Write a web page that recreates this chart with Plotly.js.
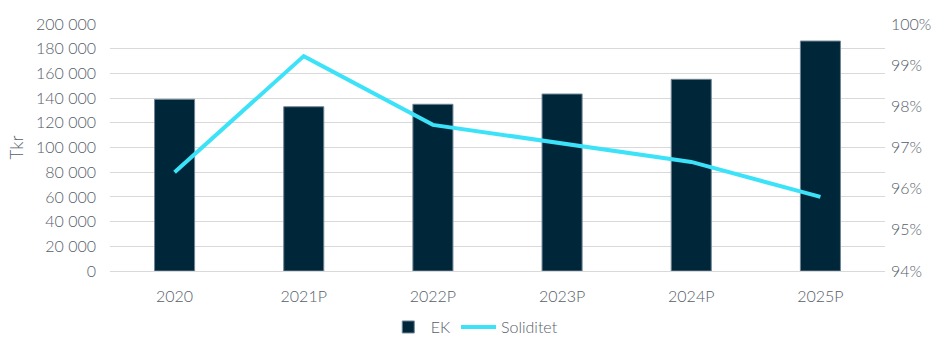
<!DOCTYPE html>
<html>
<head>
<meta charset="utf-8">
<script src="https://cdn.plot.ly/plotly-3.0.1.min.js"></script>
<style>html,body{margin:0;padding:0;background:#fff;}#chart{width:941px;height:338px;}</style>
</head>
<body>
<div id="chart"></div>
<script>
var categories = ["2020", "2021P", "2022P", "2023P", "2024P", "2025P"];
var ekValues = [139000, 133000, 135000, 143300, 155200, 186200];
var soliditetValues = [0.9640, 0.9922, 0.9755, 0.9710, 0.9665, 0.9580];

var textColor = "#55606a";
var fontFamily = "Lato, 'Open Sans', sans-serif";

var traces = [
  {
    type: "bar",
    name: "EK",
    x: categories,
    y: ekValues,
    marker: {color: "#00263a", line: {color: "#6e8595", width: 1}},
    width: 0.31,
    yaxis: "y"
  },
  {
    type: "scatter",
    mode: "lines",
    name: "Soliditet",
    x: categories,
    y: soliditetValues,
    line: {color: "#3ce2f8", width: 4},
    yaxis: "y2"
  }
];

var layout = {
  width: 941,
  height: 338,
  margin: {l: 110, r: 56, t: 24, b: 67, autoexpand: false},
  paper_bgcolor: "#ffffff",
  plot_bgcolor: "#ffffff",
  font: {family: fontFamily, size: 16, color: textColor, weight: 300},
  separators: ", ",
  showlegend: true,
  legend: {
    orientation: "h",
    x: 0.47, xanchor: "center",
    y: -0.227, yanchor: "middle",
    font: {size: 16, color: textColor, weight: 300},
    itemwidth: 35
  },
  xaxis: {
    type: "category",
    showgrid: false,
    zeroline: false,
    showline: false,
    ticks: "",
    ticklabelstandoff: 14,
    tickfont: {size: 16, color: textColor, weight: 300}
  },
  yaxis: {
    range: [0, 200000],
    dtick: 20000,
    tick0: 0,
    tickformat: ",d",
    showgrid: true,
    gridcolor: "#d9d9d9",
    gridwidth: 1,
    zeroline: true,
    zerolinecolor: "#d9d9d9",
    zerolinewidth: 1,
    showline: false,
    ticks: "",
    ticklabelstandoff: 13,
    tickfont: {size: 16, color: textColor, weight: 300},
    title: {text: "Tkr", font: {size: 17, color: textColor, weight: 300}, standoff: 8}
  },
  yaxis2: {
    overlaying: "y",
    side: "right",
    range: [0.94, 1.00],
    dtick: 0.01,
    tick0: 0.94,
    tickformat: ".0%",
    showgrid: false,
    zeroline: false,
    showline: false,
    ticks: "",
    ticklabelstandoff: 5,
    tickfont: {size: 16, color: textColor, weight: 300}
  }
};

Plotly.newPlot("chart", traces, layout, {displayModeBar: false, staticPlot: true});
</script>
</body>
</html>
